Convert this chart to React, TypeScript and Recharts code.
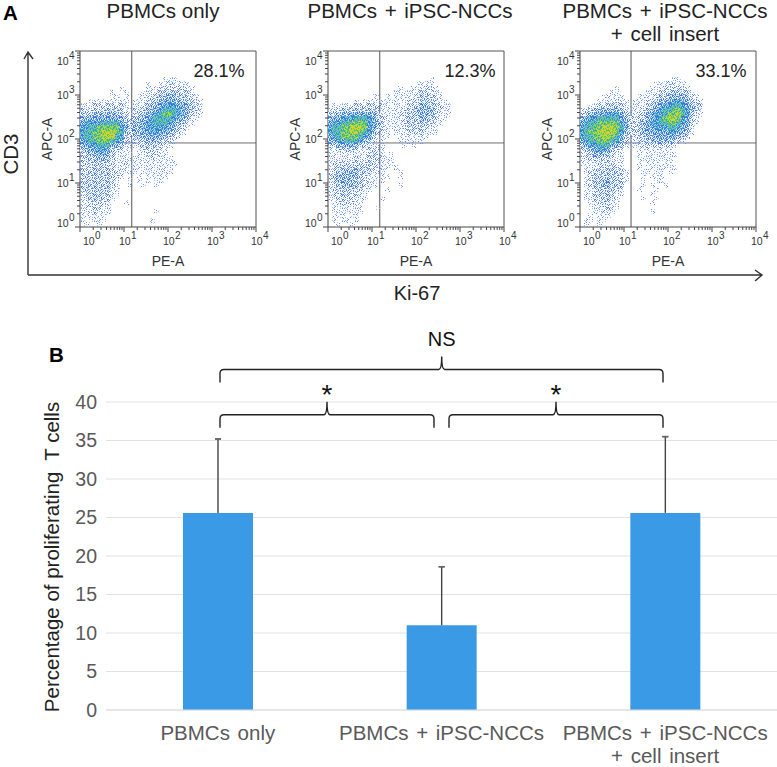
import React from "react";
import {
  ScatterChart,
  Scatter,
  BarChart,
  Bar,
  ErrorBar,
  XAxis,
  YAxis,
  CartesianGrid,
  ReferenceLine,
} from "recharts";

const FONT = "'Liberation Sans', Arial, sans-serif";

// panel B values
const categories = [
  "PBMCs only",
  "PBMCs + iPSC-NCCs",
  "PBMCs + iPSC-NCCs\n+ cell insert",
];
const meanValues = [25.6, 11, 25.6];
const upperErrors = [9.6, 7.6, 9.9];
const yTicks = [0, 5, 10, 15, 20, 25, 30, 35, 40];

// panel A: event density, 0 (empty) to 9 (hottest).
// One char = 0.1 decade. Rows go top to bottom, starting at 10^3.4
const densityOnly = [
  "0000000000000000000111000000000000000000",
  "0000000000000001001121111000000000000000",
  "0000000001000001112222221100000000000000",
  "0000000100100011122333322100000000000000",
  "0000000110100111233444332210000000000000",
  "0011111111101112334555443321000000000000",
  "1112222222101123445666554321000000000000",
  "2222233332112234456777654321000000000000",
  "3334444443212344567887654211000000000000",
  "4455555554323445677776543110000000000000",
  "5666677775434456677765431100000000000000",
  "6677888886534456666654321000000000000000",
  "6778899987434455665543210000000000000000",
  "6778899976323444554432100000000000000000",
  "5677888765222334443321000000000000000000",
  "4566777543111233332110000000000000000000",
  "3455665322110122221100000000000000000000",
  "2344554311110112221100000000000000000000",
  "2333443211111111211110000000000000000000",
  "2233332211211111111111000000000000000000",
  "2223332211111111111110000000000000000000",
  "2233333221111011111110000000000000000000",
  "2333333221010101111100000000000000000000",
  "2333333210010101011000000000000000000000",
  "2333333210010010010000000000000000000000",
  "2333333110000000000000000000000000000000",
  "1233332110000000000000000000000000000000",
  "1233322100000000000000000000000000000000",
  "1122221000100000000000000000000000000000",
  "1122211000000000000000000000000000000000",
  "1112111000000000010000000000000000000000",
  "1111110000000000000000000000000000000000",
  "1011110000000000100000000000000000000000",
  "0100100000000000000000000000000000000000",
];
const densityNcc = [
  "0000000000000000000000010000000000000000",
  "0000000000000000000011110000000000000000",
  "0000000000000000100111221000000000000000",
  "0000000000000001111122211100000000000000",
  "0000000000110101111123322100000000000000",
  "0000001011111111012223332110000000000000",
  "0111122222221101112234432211000000000000",
  "1223333333321111122344442211000000000000",
  "3344455555431111223344442111000000000000",
  "4556667776532111123334432110000000000000",
  "5667788886542111123333321100000000000000",
  "6778899986532111122332211000000000000000",
  "6778899876421101112222111000000000000000",
  "5678888765211100111111100000000000000000",
  "4566777643111000111111000000000000000000",
  "2344554321111000010100000000000000000000",
  "1122332112221000000000000000000000000000",
  "1111111112321010000000000000000000000000",
  "1111112112221110000000000000000000000000",
  "1222222223221110000000000000000000000000",
  "1233333332221101000000000000000000000000",
  "1233444332111000100000000000000000000000",
  "2344444321111100100000000000000000000000",
  "1344443321101000000000000000000000000000",
  "1233443321100000100000000000000000000000",
  "1233332211000100000000000000000000000000",
  "1223322110000000000000000000000000000000",
  "1122221110001000000000000000000000000000",
  "0122221100000000000000000000000000000000",
  "0111111100010000000000000000000000000000",
  "0111111100000000000000000000000000000000",
  "0111011000000000000000000000000000000000",
  "0101101000000000000000000000000000000000",
  "0010010000000000000000000000000000000000",
];
const densityInsert = [
  "0000000000000000000001100000000000000000",
  "0000000000000000011121110000000000000000",
  "0000000010000000111222221000000000000000",
  "0000000110000001112233332100000000000000",
  "0000011111000111123344443210000000000000",
  "0000111121101112234456654321000000000000",
  "0011222332111112345667765432000000000000",
  "1233444443211123456778876421000000000000",
  "2345556665321234566788976311000000000000",
  "4566777775431234567899865210000000000000",
  "5677888886532345667788765210000000000000",
  "6778899987532345566677654100000000000000",
  "6788999986432344555566543100000000000000",
  "6778899875321334455555432000000000000000",
  "5677888764211233444443210000000000000000",
  "3566777543111122222221000000000000000000",
  "2345665321000111111110000000000000000000",
  "1234443211000101111111000000000000000000",
  "1222322111000111111110000000000000000000",
  "1111222211000101110110000000000000000000",
  "0111222321000100111111000000000000000000",
  "0122333332100011011010000000000000000000",
  "0123333332100010111000000000000000000000",
  "0123344332100010011000000000000000000000",
  "0123344332000010100100000000000000000000",
  "0112333321000100010000000000000000000000",
  "0112333211000000100000000000000000000000",
  "0112233210000010010000000000000000000000",
  "0011232110000000100000000000000000000000",
  "0011122110000000000000000000000000000000",
  "0001121100000000100000000000000000000000",
  "0010111000000000000000000000000000000000",
  "0110110000000000000000000000000000000000",
  "0100100000000000000000000000000000000000",
];
const gateX = [1.175, 1.175, 1.16];
const gateY = 1.91;
const percents = ["28.1%", "12.3%", "33.1%"];
const decades = [0, 1, 2, 3, 4];
const minorLogs = [0.301, 0.477, 0.602, 0.699, 0.778, 0.845, 0.903, 0.954];

const TOP_EMPTY_ROWS = 6;
const CELL = 0.1;

const toCells = (rows: string[]) =>
  rows.flatMap((row, r) =>
    row.split("").flatMap((ch, c) =>
      ch === "0"
        ? []
        : [
            {
              x: (c + 0.5) * CELL,
              y: 4 - (r + TOP_EMPTY_ROWS + 0.5) * CELL,
              level: Number(ch),
            },
          ]
    )
  );

const allTicks = [
  ...decades,
  ...decades.slice(0, 4).flatMap((d) => minorLogs.map((m) => d + m)),
].sort((a, b) => a - b);

// speckle texture used to paint the density cells
const SPECKLE = [
  "4071925836140",
  "8263057194726",
  "1509482730659",
  "7346190528413",
  "2915763041870",
  "6084231976352",
  "0738519462018",
  "5192670384947",
  "3460825719263",
  "9217394056180",
  "0865142873594",
  "7349608125037",
  "2518073946621",
];
const levelStyles: { cover: number; bg: string; dot: string; alt: string }[] = [
  { cover: 2, bg: "none", dot: "#6a92e8", alt: "#a4bef2" },
  { cover: 3, bg: "none", dot: "#587fe4", alt: "#94b4f0" },
  { cover: 4, bg: "#f6f9fe", dot: "#4c78e0", alt: "#8aaeee" },
  { cover: 5, bg: "#ecf3fc", dot: "#4472de", alt: "#62a8e4" },
  { cover: 6, bg: "#d8e8f9", dot: "#3f6edc", alt: "#58ace0" },
  { cover: 7, bg: "#a8d0f0", dot: "#3a78d8", alt: "#40b4c0" },
  { cover: 6, bg: "#74c4cc", dot: "#3a90d0", alt: "#50c484" },
  { cover: 6, bg: "#74ca74", dot: "#30b0a0", alt: "#bcda40" },
  { cover: 6, bg: "#b4da40", dot: "#60c860", alt: "#ecc828" },
];

function SpeckleDefs() {
  return (
    <svg width={0} height={0} style={{ position: "absolute" }}>
      <defs>
        {levelStyles.map((s, i) => (
          <pattern
            key={i}
            id={`speck-${i + 1}`}
            width={13}
            height={13}
            patternUnits="userSpaceOnUse"
          >
            <rect width={13} height={13} fill={s.bg} />
            {SPECKLE.flatMap((row, y) =>
              row.split("").map((ch, x) =>
                Number(ch) < s.cover ? (
                  <rect
                    key={`${x}-${y}`}
                    x={x}
                    y={y}
                    width={1}
                    height={1}
                    fill={Number(ch) % 2 ? s.alt : s.dot}
                  />
                ) : null
              )
            )}
          </pattern>
        ))}
      </defs>
    </svg>
  );
}

function DensityCell(props: any) {
  const { cx, cy, payload } = props;
  return (
    <rect
      x={Math.floor(cx - 2.2)}
      y={Math.floor(cy - 2.2)}
      width={5}
      height={5}
      fill={`url(#speck-${payload.level})`}
    />
  );
}

function PowerLabel({ x, y, exp }: { x: number; y: number; exp: number }) {
  return (
    <g fontFamily={FONT} fill="#333">
      <text x={x} y={y} fontSize={10.5}>
        10
      </text>
      <text x={x + 12} y={y - 6} fontSize={10}>
        {exp}
      </text>
    </g>
  );
}

function XLogTick(props: any) {
  const { x, y, payload } = props;
  const major = Number.isInteger(payload.value);
  const shift = payload.value === 0 ? 3 : -5;
  return (
    <g>
      <line x1={x} x2={x} y1={y} y2={y + (major ? 5 : 3)} stroke="#444" />
      {major && <PowerLabel x={x + shift} y={y + 18} exp={payload.value} />}
    </g>
  );
}

function YLogTick(props: any) {
  const { x, y, payload } = props;
  const major = Number.isInteger(payload.value);
  const shift = payload.value === 4 ? 14 : payload.value === 0 ? 0 : 4;
  return (
    <g>
      <line x1={x} x2={x - (major ? 5 : 3)} y1={y} y2={y} stroke="#444" />
      {major && <PowerLabel x={x - 23} y={y + shift} exp={payload.value} />}
    </g>
  );
}

function DotPlot({
  left,
  rows,
  gate,
}: {
  left: number;
  rows: string[];
  gate: number;
}) {
  return (
    <div style={{ position: "absolute", left: left - 50, top: 0 }}>
      <ScatterChart
        width={246}
        height={277}
        margin={{ top: 51, right: 20, bottom: 0, left: 0 }}
      >
        <XAxis
          type="number"
          dataKey="x"
          domain={[0, 4]}
          ticks={allTicks}
          interval={0}
          tick={<XLogTick />}
          tickLine={false}
          tickSize={0}
          tickMargin={0}
          height={50}
          stroke="#444"
          label={{
            value: "PE-A",
            position: "insideBottom",
            offset: 11,
            fontSize: 14,
            fontFamily: FONT,
            fill: "#333",
          }}
        />
        <YAxis
          type="number"
          dataKey="y"
          domain={[0, 4]}
          ticks={allTicks}
          interval={0}
          tick={<YLogTick />}
          tickLine={false}
          tickSize={0}
          tickMargin={0}
          width={50}
          stroke="#444"
          label={{
            value: "APC-A",
            angle: -90,
            position: "insideLeft",
            offset: 17,
            fontSize: 14,
            fontFamily: FONT,
            fill: "#333",
            style: { textAnchor: "middle" },
          }}
        />
        <Scatter
          data={toCells(rows)}
          shape={<DensityCell />}
          isAnimationActive={false}
        />
        <ReferenceLine x={gate} stroke="#6f6f6f" strokeWidth={1.2} />
        <ReferenceLine y={gateY} stroke="#6f6f6f" />
        <ReferenceLine x={4} stroke="#555" />
        <ReferenceLine y={4} stroke="#555" />
      </ScatterChart>
    </div>
  );
}

function CategoryTick(props: any) {
  const { x, y, payload } = props;
  return (
    <text
      x={x}
      y={y}
      textAnchor="middle"
      fontFamily={FONT}
      fontSize={20.5}
      wordSpacing={2}
      fill="#595959"
    >
      {String(payload.value)
        .split("\n")
        .map((line, i) => (
          <tspan key={i} x={x} y={y + 30 + i * 23}>
            {line}
          </tspan>
        ))}
    </text>
  );
}

const barData = categories.map((name, i) => ({
  name,
  value: meanValues[i],
  err: [0, upperErrors[i]],
  // hidden bar that only carries the small cap at the tip of the whisker
  tip: meanValues[i] + upperErrors[i],
  tipErr: [0, 0],
}));

const bracketPath = (x1: number, x2: number, peak: number, y: number) =>
  `M${x1} ${y + 13} V${y + 4} Q${x1} ${y} ${x1 + 4} ${y} H${peak - 3} Q${peak} ${y} ${peak} ${y - 13} Q${peak} ${y} ${peak + 3} ${y} H${x2 - 4} Q${x2} ${y} ${x2} ${y + 4} V${y + 13}`;

function Annotations() {
  return (
    <svg
      width={777}
      height={767}
      style={{ position: "absolute", left: 0, top: 0, pointerEvents: "none" }}
      fontFamily={FONT}
    >
      <text x={3} y={20} fontSize={20.5} fontWeight="bold" fill="#000">
        A
      </text>
      <text x={49} y={362} fontSize={20.5} fontWeight="bold" fill="#000">
        B
      </text>

      <g fontSize={20.5} fill="#222" textAnchor="middle" wordSpacing={2}>
        <text x={163} y={18} wordSpacing={0}>PBMCs only</text>
        <text x={410} y={18}>PBMCs + iPSC-NCCs</text>
        <text x={665} y={18}>PBMCs + iPSC-NCCs</text>
        <text x={665} y={41}>+ cell insert</text>
      </g>

      <g fontSize={18} fill="#222" textAnchor="middle">
        <text x={219} y={77}>{percents[0]}</text>
        <text x={470} y={77}>{percents[1]}</text>
        <text x={721} y={77}>{percents[2]}</text>
      </g>

      {/* CD3 / Ki-67 arrows */}
      <path
        d="M28 275 V52 M24 59 L28 52 L33 59 M28 275 H762 M755 270 L762 275 L755 281"
        fill="none"
        stroke="#333"
        strokeWidth={1.4}
      />
      <text
        transform="translate(18 154) rotate(-90)"
        textAnchor="middle"
        fontSize={20.5}
        fill="#222"
      >
        CD3
      </text>
      <text x={417} y={300} textAnchor="middle" fontSize={20} fill="#222">
        Ki-67
      </text>

      <text
        transform="translate(59 557) rotate(-90)"
        textAnchor="middle"
        fontSize={20.5}
        fill="#222"
        style={{ whiteSpace: "pre" }}
      >
        Percentage of proliferating  T cells
      </text>

      {/* significance brackets */}
      <g fill="none" stroke="#222" strokeWidth={1.4}>
        <path d={bracketPath(220, 663, 441.7, 369.5)} />
        <path d={bracketPath(220, 434, 327, 414.7)} />
        <path d={bracketPath(449, 663, 556, 414.7)} />
      </g>
      <g textAnchor="middle" fill="#111">
        <text x={441.7} y={346} fontSize={20}>NS</text>
        <text x={327} y={404} fontSize={28}>*</text>
        <text x={556} y={404} fontSize={28}>*</text>
      </g>
    </svg>
  );
}

export default function App() {
  return (
    <div
      style={{
        position: "absolute",
        left: 0,
        top: 0,
        width: 777,
        height: 767,
        background: "#fff",
        overflow: "hidden",
      }}
    >
      <SpeckleDefs />
      <DotPlot left={80} rows={densityOnly} gate={gateX[0]} />
      <DotPlot left={328} rows={densityNcc} gate={gateX[1]} />
      <DotPlot left={580} rows={densityInsert} gate={gateX[2]} />

      <div style={{ position: "absolute", left: 0, top: 0 }}>
        <BarChart
          width={777}
          height={767}
          data={barData}
          barGap={-70}
          margin={{ top: 402, right: 0, bottom: 0, left: 0 }}
        >
          <CartesianGrid vertical={false} stroke="#e2e2e2" />
          <XAxis
            dataKey="name"
            height={57}
            interval={0}
            tick={<CategoryTick />}
            tickLine={false}
            tickSize={0}
            tickMargin={0}
            stroke="#dcdcdc"
          />
          <YAxis
            domain={[0, 40]}
            ticks={yTicks}
            width={106}
            axisLine={false}
            tickLine={false}
            tickSize={0}
            tickMargin={9}
            tick={{ fontSize: 19.5, fill: "#595959", fontFamily: FONT }}
          />
          <Bar
            dataKey="value"
            fill="#3a9ae6"
            barSize={70}
            isAnimationActive={false}
          >
            <ErrorBar
              dataKey="err"
              direction="y"
              width={0}
              stroke="#444"
              strokeWidth={1.4}
              isAnimationActive={false}
            />
          </Bar>
          <Bar
            dataKey="tip"
            fill="none"
            barSize={70}
            isAnimationActive={false}
          >
            <ErrorBar
              dataKey="tipErr"
              direction="y"
              width={3}
              stroke="#666"
              isAnimationActive={false}
            />
          </Bar>
        </BarChart>
      </div>
      <Annotations />
    </div>
  );
}
